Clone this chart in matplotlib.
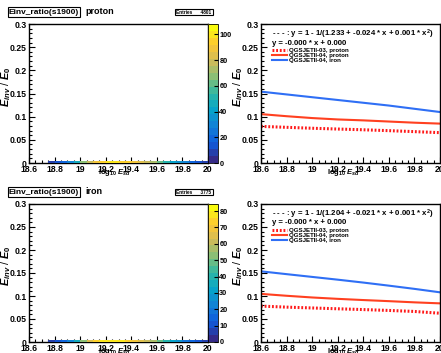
"""Einv_ratio(s1900) panels: 2D histogram strip and model curves, ROOT look."""

import matplotlib
matplotlib.use("Agg")
import matplotlib.pyplot as plt
import numpy as np
from matplotlib.colors import LinearSegmentedColormap
from matplotlib.ticker import MultipleLocator

plt.rcParams["font.family"] = ["Liberation Sans", "DejaVu Sans"]
plt.rcParams["font.weight"] = "bold"
plt.rcParams["mathtext.fontset"] = "custom"
plt.rcParams["mathtext.it"] = "Liberation Sans:italic:bold"
plt.rcParams["mathtext.rm"] = "Liberation Sans:bold"

# histogram strip (counts per log10 E bin, all at E_inv/E_0 ~ 0)
bin_edges = np.arange(18.60, 20.0001, 0.05)
counts_proton = [0, 0, 0, 8, 12, 20, 30, 45, 65, 80, 90, 95, 100, 98,
                 96, 92, 88, 85, 80, 72, 60, 50, 42, 35, 28, 20, 15, 10]
counts_iron = [0, 0, 0, 6, 10, 16, 24, 36, 52, 64, 72, 76, 80, 78,
               76, 73, 70, 66, 62, 56, 48, 40, 33, 27, 21, 15, 11, 7]
entries = ["4801", "3775"]
primaries = ["proton", "iron"]
cbar_max = [108, 84.3]

# model curves
curve_x = [18.6, 18.8, 19.0, 19.2, 19.4, 19.6, 19.8, 20.0]
qgs03_proton = [[0.079, 0.077, 0.075, 0.0733, 0.0717, 0.0698, 0.0677, 0.0655],
                [0.078, 0.0758, 0.074, 0.0722, 0.0705, 0.0686, 0.0664, 0.0625]]
qgs04_proton = [[0.1055, 0.101, 0.097, 0.094, 0.092, 0.0895, 0.087, 0.085],
                [0.1046, 0.1005, 0.0968, 0.0938, 0.0912, 0.0888, 0.0862, 0.084]]
qgs04_iron = [[0.154, 0.148, 0.142, 0.136, 0.130, 0.124, 0.117, 0.110],
              [0.1536, 0.1475, 0.1415, 0.1355, 0.1292, 0.1225, 0.1155, 0.108]]
fit_text = ["- - - : y = 1 - 1/(1.233 + -0.024 * x + 0.001 * x$^{2}$)",
            "- - - : y = 1 - 1/(1.204 + -0.021 * x + 0.001 * x$^{2}$)"]
line_text = "y = -0.000 * x + 0.000"

bird = LinearSegmentedColormap.from_list("bird", list(zip(
    np.linspace(0, 1, 9),
    [(0.2082, 0.1664, 0.5293), (0.0592, 0.3599, 0.8684), (0.0780, 0.5041, 0.8385),
     (0.0232, 0.6419, 0.7914), (0.1802, 0.7178, 0.6425), (0.5301, 0.7492, 0.4662),
     (0.8186, 0.7328, 0.3499), (0.9956, 0.7862, 0.1968), (0.9764, 0.9832, 0.0539)]
))).resampled(20)

W, H = 441, 353
fig = plt.figure(figsize=(W / 100, H / 100), dpi=100)

TICK_FS = 6.2


def style_axes(ax):
    ax.set_xlim(18.6, 20.0)
    ax.set_ylim(0, 0.3)
    ax.xaxis.set_major_locator(MultipleLocator(0.2))
    ax.xaxis.set_minor_locator(MultipleLocator(0.05))
    ax.yaxis.set_major_locator(MultipleLocator(0.05))
    ax.yaxis.set_minor_locator(MultipleLocator(0.01))
    ax.tick_params(which="both", direction="in", labelsize=TICK_FS, pad=1.5, width=0.8)
    ax.tick_params(which="major", length=4)
    ax.tick_params(which="minor", length=2)
    ax.set_xticks(ax.get_xticks())
    ax.set_xticklabels(["%g" % t for t in ax.get_xticks()], fontweight="bold")
    ax.set_yticks(ax.get_yticks())
    ax.set_yticklabels(["%g" % t for t in ax.get_yticks()], fontweight="bold")
    ax.set_xlim(18.6, 20.0)
    ax.set_ylim(0, 0.3)
    for s in ax.spines.values():
        s.set_linewidth(1.0)
    ax.set_ylabel(r"$E_{inv}$ / $E_{0}$", fontsize=7.8)
    ax.yaxis.set_label_coords(-0.09, 0.55)


def px(x0, y0, x1, y1):
    return [x0 / W, 1 - y1 / H, (x1 - x0) / W, (y1 - y0) / H]


rows = [(24, 163), (204, 342)]
for i, (top, bot) in enumerate(rows):
    counts = counts_proton if i == 0 else counts_iron

    # left: 2D histogram
    ax = fig.add_axes(px(29, top, 208, bot))
    c = np.array(counts, dtype=float)
    c = np.ma.masked_where(c <= 0, c)
    mesh = ax.pcolormesh(bin_edges, [0, 0.005], c[np.newaxis, :], cmap=bird,
                         vmin=0, vmax=cbar_max[i], zorder=3)
    style_axes(ax)
    ax.text(0.48, -0.03, r"log$_{10}$ $E_{sd}$", transform=ax.transAxes,
            ha="center", va="top", fontsize=5.5)

    cax = fig.add_axes(px(208, top, 218, bot))
    cb = fig.colorbar(mesh, cax=cax)
    cb.outline.set_linewidth(0.6)
    cax.yaxis.set_major_locator(MultipleLocator(20 if i == 0 else 10))
    cax.tick_params(direction="in", length=3, labelsize=5.3, pad=1, width=0.8)
    cax.set_yticks(cax.get_yticks())
    cax.set_yticklabels(["%d" % t for t in cax.get_yticks()], fontweight="bold")
    cax.set_ylim(0, cbar_max[i])

    # title box and entries box
    ty = top - 12
    fig.text(44 / W, 1 - ty / H, "Einv_ratio(s1900)", fontsize=6, ha="center",
             va="center", bbox=dict(boxstyle="square,pad=0.15", fc="white",
                                    ec="black", lw=0.8))
    fig.text(85 / W, 1 - (ty - 1) / H, primaries[i], fontsize=6.5, ha="left",
             va="center", fontweight="bold")
    fig.text(194 / W, 1 - ty / H, "Entries      " + entries[i], fontsize=3.4,
             ha="center", va="center",
             bbox=dict(boxstyle="square,pad=0.2", fc="white", ec="black", lw=0.8))

    # right: model curves
    ax2 = fig.add_axes(px(261, top, 440, bot))
    ax2.plot(curve_x, qgs03_proton[i], color="#ff1a1a", lw=2.2, ls=(0, (0.6, 0.6)),
             label="QGSJETII-03, proton")
    ax2.plot(curve_x, qgs04_proton[i], color="#ff4020", lw=1.5,
             label="QGSJETII-04, proton")
    ax2.plot(curve_x, qgs04_iron[i], color="#2f6ff5", lw=1.5,
             label="QGSJETII-04, iron")
    style_axes(ax2)
    ax2.text(0.46, -0.03, r"log$_{10}$ $E_{sd}$", transform=ax2.transAxes,
             ha="center", va="top", fontsize=5.5)
    ax2.text(0.06, 0.928, fit_text[i], transform=ax2.transAxes, fontsize=5.6,
             ha="left", va="center", fontweight="bold")
    ax2.text(0.06, 0.863, line_text, transform=ax2.transAxes, fontsize=5.6,
             ha="left", va="center", fontweight="bold")
    ax2.legend(loc="upper left", bbox_to_anchor=(0.06, 0.83), frameon=False,
               prop={"size": 4.4, "weight": "bold"}, handlelength=2.5,
               handletextpad=0.35, labelspacing=0.0, borderpad=0.0,
               borderaxespad=0.0)

fig.savefig("out.png", dpi=100)
